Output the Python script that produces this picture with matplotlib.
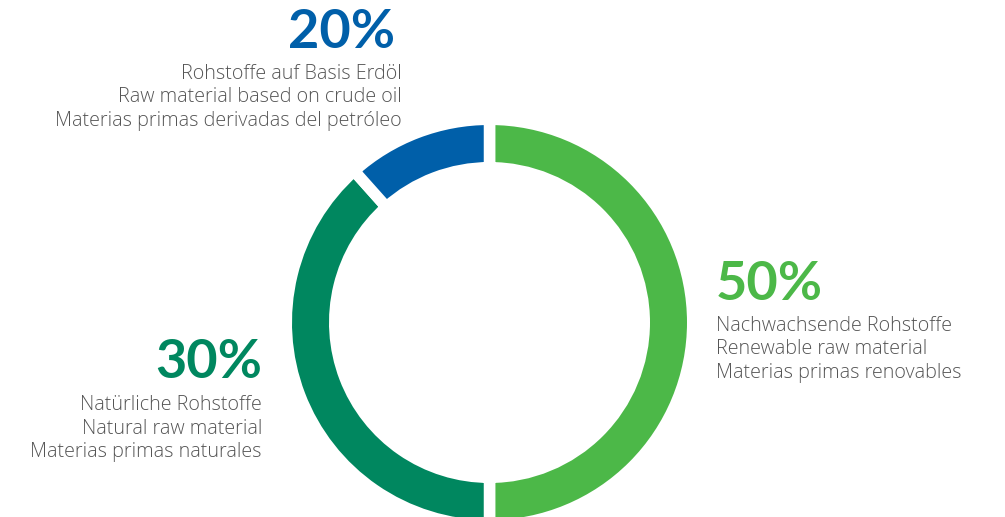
import matplotlib
matplotlib.use("Agg")
import matplotlib.pyplot as plt

# arc shares as drawn in the picture (labels state the printed percentages)
categories = ["Nachwachsende Rohstoffe", "Natürliche Rohstoffe", "Rohstoffe auf Basis Erdöl"]
arc_shares = [50, 38.4, 11.6]
pct_labels = ["50%", "30%", "20%"]
colors = ["#4cb848", "#00875f", "#005fa9"]
descriptions = [
    ["Nachwachsende Rohstoffe", "Renewable raw material", "Materias primas renovables"],
    ["Natürliche Rohstoffe", "Natural raw material", "Materias primas naturales"],
    ["Rohstoffe auf Basis Erdöl", "Raw material based on crude oil", "Materias primas derivadas del petróleo"],
]

plt.rcParams["font.family"] = ["Open Sans", "DejaVu Sans"]

fig = plt.figure(figsize=(10.05, 5.17), dpi=100)
ax = fig.add_axes([0, 0, 1, 1])

W, H = 1005, 517
cx, cy = 489.5, H - 322.5
R, ring = 197.5, 37
gap = 11.5  # px

ax.pie(arc_shares, colors=colors, startangle=90, counterclock=False,
       center=(cx, cy), radius=R + gap / 2,
       wedgeprops=dict(width=ring + gap, edgecolor="white", linewidth=gap * 0.72))
ax.set_xlim(0, W)
ax.set_ylim(0, H)
ax.set_aspect("equal")
ax.axis("off")

text_col = "#555555"
# (x, y of percentage center, alignment, y of first line center)
blocks = [
    (716, 285, "left", 326),
    (262, 362, "right", 405),
    (400, 33, "right", 74),
]
for i, (x, yp, ha, y0) in enumerate(blocks):
    ax.text(x - (5 if i == 2 else 0), H - yp, pct_labels[i], color=colors[i], fontsize=39,
            fontweight="bold", ha=ha, va="center", family=["Lato", "DejaVu Sans"])
    for j, line in enumerate(descriptions[i]):
        ax.text(x + (2 if i == 2 else 0), H - (y0 + 23.5 * j), line, color=text_col, fontsize=14.2,
                ha=ha, va="center", fontweight="light")

fig.savefig("out.png", dpi=100)
